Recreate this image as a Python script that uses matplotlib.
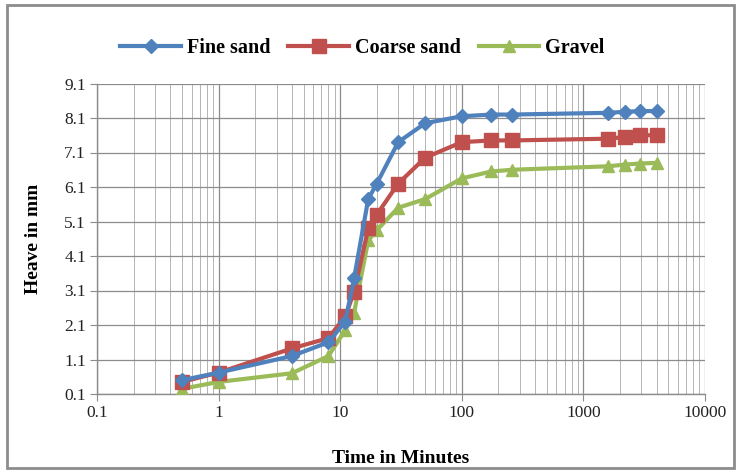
import matplotlib.pyplot as plt
import numpy as np
from matplotlib.patches import Rectangle
from matplotlib.ticker import FixedLocator, LogLocator, NullFormatter

plt.rcParams["font.family"] = ["Liberation Serif", "DejaVu Serif"]

# time in minutes
time_min = [0.5, 1, 4, 8, 11, 13, 17, 20, 30, 50, 100, 175, 260, 1600, 2200, 2900, 4000]
fine_sand = [0.5, 0.72, 1.2, 1.6, 2.2, 3.45, 5.75, 6.2, 7.4, 7.95, 8.15, 8.2, 8.2, 8.25, 8.28, 8.3, 8.3]
coarse_sand = [0.45, 0.72, 1.42, 1.72, 2.35, 3.05, 4.9, 5.3, 6.2, 6.95, 7.4, 7.45, 7.45, 7.5, 7.55, 7.6, 7.6]
gravel = [0.25, 0.45, 0.7, 1.2, 1.95, 2.45, 4.55, 4.85, 5.5, 5.75, 6.35, 6.55, 6.6, 6.7, 6.75, 6.78, 6.8]

y_ticks = [0.1, 1.1, 2.1, 3.1, 4.1, 5.1, 6.1, 7.1, 8.1, 9.1]
x_ticks = [0.1, 1, 10, 100, 1000, 10000]
x_tick_labels = ["0.1", "1", "10", "100", "1000", "10000"]

fig = plt.figure(figsize=(7.4, 4.72), dpi=100)
ax = fig.add_axes([97 / 740, 1 - 394 / 472, (705 - 97) / 740, (394 - 83.5) / 472])

ax.plot(time_min, fine_sand, color="#4F81BD", linewidth=3, marker="D", markersize=7.5,
        label="Fine sand", zorder=5)
ax.plot(time_min, coarse_sand, color="#C0504D", linewidth=3, marker="s", markersize=10,
        label="Coarse sand", zorder=4)
ax.plot(time_min, gravel, color="#9BBB59", linewidth=3, marker="^", markersize=9,
        label="Gravel", zorder=3)

ax.set_xscale("log")
ax.set_xlim(0.1, 10000)
ax.set_ylim(0.1, 9.1)
ax.yaxis.set_major_locator(FixedLocator(y_ticks))
ax.set_yticklabels([f"{v:.1f}" for v in y_ticks])
ax.xaxis.set_major_locator(FixedLocator(x_ticks))
ax.set_xticklabels(x_tick_labels)
ax.xaxis.set_minor_locator(LogLocator(base=10, subs=np.arange(2, 10)))
ax.xaxis.set_minor_formatter(NullFormatter())

ax.grid(True, which="major", color="#8c8c8c", linewidth=0.9)
ax.grid(True, which="minor", axis="x", color="#b4b4b4", linewidth=0.7)
ax.set_axisbelow(True)

for side in ["top", "right"]:
    ax.spines[side].set_visible(False)
for side in ["left", "bottom"]:
    ax.spines[side].set_color("#8c8c8c")
    ax.spines[side].set_linewidth(1.0)

ax.tick_params(axis="both", which="major", labelsize=12.5, length=5, color="#8c8c8c",
               labelcolor="#222222")
ax.tick_params(axis="y", which="major", pad=3)
ax.tick_params(axis="x", which="minor", length=0)
ax.tick_params(axis="x", which="major", pad=3)

ax.set_xlabel("Time in Minutes", fontsize=14, fontweight="bold", labelpad=21)
ax.set_ylabel("Heave in mm", fontsize=14, fontweight="bold", labelpad=16)

fig.legend(loc="center", bbox_to_anchor=(0.49, 1 - 48 / 472), ncol=3, frameon=False,
           handlelength=3.0, columnspacing=0.9, handletextpad=0.3,
           prop={"size": 14.5, "weight": "bold"})

fig.patches.append(Rectangle((7 / 740, 1 - 468 / 472), 727 / 740, 463 / 472,
                             transform=fig.transFigure, fill=False,
                             edgecolor="#8c8c8c", linewidth=2))

fig.savefig("out.png", dpi=100)
